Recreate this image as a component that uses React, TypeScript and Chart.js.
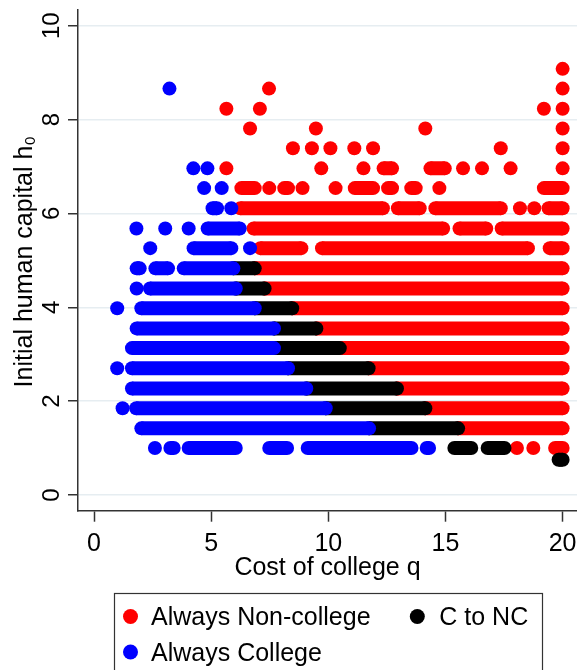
import React, { useEffect, useRef } from "react";
import { Chart, registerables } from "chart.js";

Chart.register(...registerables);

// ---------- data ----------
// Each entry: [initial human capital h0, cost q from, cost q to]
// (a run of adjacent simulated points on one h0 row; from === to is a single point)
const ALWAYS_COLLEGE: number[][] = [
  [1.0, 2.6, 2.6], [1.0, 3.26, 3.4], [1.0, 4.04, 6.05], [1.0, 7.48, 8.24], [1.0, 9.12, 13.55], [1.0, 14.2, 14.3],
  [1.42, 2.02, 11.74],
  [1.85, 1.22, 1.22], [1.85, 1.8, 9.89],
  [2.27, 1.62, 9.06],
  [2.7, 0.99, 0.99], [2.7, 1.62, 8.28],
  [3.13, 1.62, 7.68],
  [3.55, 1.82, 7.68],
  [3.98, 0.99, 0.99], [3.98, 2.02, 6.86],
  [4.4, 1.82, 1.82], [4.4, 2.39, 6.05],
  [4.83, 1.82, 1.95], [4.83, 2.62, 3.16], [4.83, 3.83, 5.95],
  [5.26, 2.4, 2.4], [5.26, 4.25, 5.86], [5.26, 6.66, 6.66],
  [5.68, 1.81, 1.81], [5.68, 3.04, 3.04], [5.68, 4.04, 4.04], [5.68, 4.85, 6.22],
  [6.11, 5.06, 5.25], [6.11, 5.86, 5.86],
  [6.54, 4.7, 4.7], [6.54, 5.45, 5.45],
  [6.96, 4.24, 4.24], [6.96, 4.84, 4.84],
  [8.66, 3.22, 3.22],
];

const C_TO_NC: number[][] = [
  [0.75, 19.83, 20.0],
  [1.0, 15.38, 16.1], [1.0, 16.8, 17.52],
  [1.42, 11.74, 15.54],
  [1.85, 9.89, 14.14],
  [2.27, 9.06, 12.93],
  [2.7, 8.28, 11.72],
  [3.13, 7.68, 10.49],
  [3.55, 7.68, 9.49],
  [3.98, 6.86, 8.46],
  [4.4, 6.05, 7.28],
  [4.83, 5.95, 6.86],
];

const ALWAYS_NON_COLLEGE: number[][] = [
  [1.0, 18.05, 18.05], [1.0, 18.75, 18.75], [1.0, 19.68, 20.0],
  [1.42, 15.54, 20.0],
  [1.85, 14.14, 20.0],
  [2.27, 12.93, 20.0],
  [2.7, 11.72, 20.0],
  [3.13, 10.49, 20.0],
  [3.55, 9.49, 20.0],
  [3.98, 8.46, 20.0],
  [4.4, 7.28, 20.0],
  [4.83, 6.86, 20.0],
  [5.26, 7.1, 8.85], [5.26, 9.73, 18.52], [5.26, 19.45, 20.0],
  [5.68, 6.81, 14.9], [5.68, 15.6, 16.74], [5.68, 17.4, 20.0],
  [6.11, 6.25, 12.33], [6.11, 12.97, 13.9], [6.11, 14.57, 17.36], [6.11, 18.18, 18.18], [6.11, 18.79, 18.79], [6.11, 19.4, 20.0],
  [6.54, 6.29, 6.86], [6.54, 7.48, 7.48], [6.54, 8.12, 8.28], [6.54, 8.9, 8.9], [6.54, 10.31, 10.31], [6.54, 11.13, 11.91],
  [6.54, 12.55, 12.72], [6.54, 13.54, 13.73], [6.54, 14.74, 14.74], [6.54, 19.2, 20.0],
  [6.96, 5.65, 5.65], [6.96, 9.7, 9.7], [6.96, 11.5, 11.5], [6.96, 12.36, 12.72], [6.96, 14.36, 14.97], [6.96, 15.75, 15.75],
  [6.96, 16.56, 16.56], [6.96, 17.78, 17.78], [6.96, 20.0, 20.0],
  [7.39, 8.49, 8.49], [7.39, 9.3, 9.3], [7.39, 10.09, 10.09], [7.39, 11.11, 11.11], [7.39, 11.91, 11.91], [7.39, 17.36, 17.36], [7.39, 20.0, 20.0],
  [7.81, 6.66, 6.66], [7.81, 9.47, 9.47], [7.81, 14.14, 14.14], [7.81, 20.0, 20.0],
  [8.23, 5.65, 5.65], [8.23, 7.08, 7.08], [8.23, 19.2, 19.2], [8.23, 20.0, 20.0],
  [8.66, 7.47, 7.47], [8.66, 20.0, 20.0],
  [9.08, 20.0, 20.0],
];

const X_TICKS = [0, 5, 10, 15, 20];
const Y_TICKS = [0, 2, 4, 6, 8, 10];
const X_TITLE = "Cost of college q";
const Y_TITLE = "Initial human capital h";
const Y_TITLE_SUB = "0";
const LEGEND_LABELS = ["Always Non-college", "C to NC", "Always College"];

// ---------- styling ----------
const FONT = '"Liberation Sans", Arial, Helvetica, sans-serif';
const RED = "#ff0000";
const BLUE = "#0000ff";
const BLACK = "#000000";
const AXIS = "#333333";
const GRID = "#e6edf1";

function runsToDatasets(runs: number[][], color: string, order: number) {
  return runs.map(([h, a, b]) => ({
    type: "scatter" as const,
    data: a === b ? [{ x: a, y: h }] : [{ x: a, y: h }, { x: b, y: h }],
    showLine: true,
    borderColor: color,
    backgroundColor: color,
    borderWidth: 14,
    borderCapStyle: "butt" as const,
    pointRadius: 7,
    pointHoverRadius: 7,
    pointBorderWidth: 0,
    pointBackgroundColor: color,
    order,
  }));
}

const textPlugin = {
  id: "stataText",
  afterDraw(chart: any) {
    const ctx = chart.ctx as CanvasRenderingContext2D;
    const xs = chart.scales.x;
    const ys = chart.scales.y;
    const area = chart.chartArea;
    ctx.save();
    ctx.fillStyle = "#000";

    // y tick labels (rotated)
    ctx.font = `24px ${FONT}`;
    ctx.textAlign = "center";
    ctx.textBaseline = "alphabetic";
    for (const v of Y_TICKS) {
      const y = ys.getPixelForValue(v);
      ctx.save();
      ctx.translate(59, y);
      ctx.rotate(-Math.PI / 2);
      ctx.fillText(String(v), 0, 0);
      ctx.restore();
    }

    // x tick labels
    ctx.font = `25px ${FONT}`;
    for (const v of X_TICKS) {
      ctx.fillText(String(v), xs.getPixelForValue(v), 551);
    }

    // x title
    ctx.fillText(X_TITLE, (area.left + area.right) / 2, 575);

    // y title with subscript
    ctx.save();
    ctx.translate(32, (area.top + area.bottom) / 2 + 2);
    ctx.rotate(-Math.PI / 2);
    ctx.font = `25px ${FONT}`;
    const w1 = ctx.measureText(Y_TITLE).width;
    ctx.font = `15px ${FONT}`;
    const w2 = ctx.measureText(Y_TITLE_SUB).width;
    const start = -(w1 + w2) / 2;
    ctx.textAlign = "left";
    ctx.font = `25px ${FONT}`;
    ctx.fillText(Y_TITLE, start, 0);
    ctx.font = `15px ${FONT}`;
    ctx.fillText(Y_TITLE_SUB, start + w1 + 0.5, 3);
    ctx.restore();

    // legend box
    ctx.strokeStyle = AXIS;
    ctx.lineWidth = 1.2;
    ctx.strokeRect(114.5, 593.5, 428, 120);
    const items = [
      { label: LEGEND_LABELS[0], color: RED, mx: 130.5, my: 616.5, tx: 151, ty: 625 },
      { label: LEGEND_LABELS[1], color: BLACK, mx: 417.3, my: 616.5, tx: 439.3, ty: 625 },
      { label: LEGEND_LABELS[2], color: BLUE, mx: 130.5, my: 652, tx: 151, ty: 660.5 },
    ];
    ctx.font = `25px ${FONT}`;
    ctx.textAlign = "left";
    for (const it of items) {
      ctx.beginPath();
      ctx.fillStyle = it.color;
      ctx.arc(it.mx, it.my, 7.5, 0, Math.PI * 2);
      ctx.fill();
      ctx.fillStyle = "#000";
      ctx.fillText(it.label, it.tx, it.ty);
    }
    ctx.restore();
  },
};

export default function App() {
  const ref = useRef<HTMLCanvasElement | null>(null);

  useEffect(() => {
    if (!ref.current) return;
    const datasets = [
      ...runsToDatasets(ALWAYS_COLLEGE, BLUE, 0),
      ...runsToDatasets(C_TO_NC, BLACK, 1),
      ...runsToDatasets(ALWAYS_NON_COLLEGE, RED, 2),
    ];
    const chart = new Chart(ref.current, {
      type: "scatter",
      data: { datasets: datasets as any },
      options: {
        responsive: false,
        animation: false,
        events: [],
        devicePixelRatio: 1,
        layout: { padding: { top: 10, right: 0, left: 0, bottom: 0 }, autoPadding: false },
        plugins: { legend: { display: false }, tooltip: { enabled: false }, title: { display: false } },
        scales: {
          x: {
            type: "linear",
            position: "bottom",
            min: -0.683,
            max: 20.614,
            ticks: { display: false, stepSize: 5, includeBounds: false },
            grid: {
              display: true,
              drawOnChartArea: false,
              drawTicks: true,
              tickLength: 11,
              tickColor: AXIS,
              tickWidth: 1.5,
            },
            border: { display: true, color: AXIS, width: 1.5 },
            afterFit: (s: any) => {
              s.height = 159.3;
            },
          },
          y: {
            type: "linear",
            position: "left",
            min: -0.3345,
            max: 10.3345,
            ticks: { display: false, stepSize: 2, includeBounds: false },
            grid: {
              display: true,
              drawOnChartArea: true,
              color: GRID,
              lineWidth: 1.5,
              drawTicks: true,
              tickLength: 10,
              tickColor: AXIS,
              tickWidth: 1.5,
            },
            border: { display: true, color: AXIS, width: 1.5 },
            afterFit: (s: any) => {
              s.width = 78;
            },
          },
        },
      } as any,
      plugins: [textPlugin],
    });
    return () => chart.destroy();
  }, []);

  return (
    <div
      style={{
        position: "fixed",
        left: 0,
        top: 0,
        width: 577,
        height: 670,
        overflow: "hidden",
        background: "#ffffff",
      }}
    >
      <canvas ref={ref} width={577} height={670} style={{ display: "block", width: 577, height: 670 }} />
    </div>
  );
}
